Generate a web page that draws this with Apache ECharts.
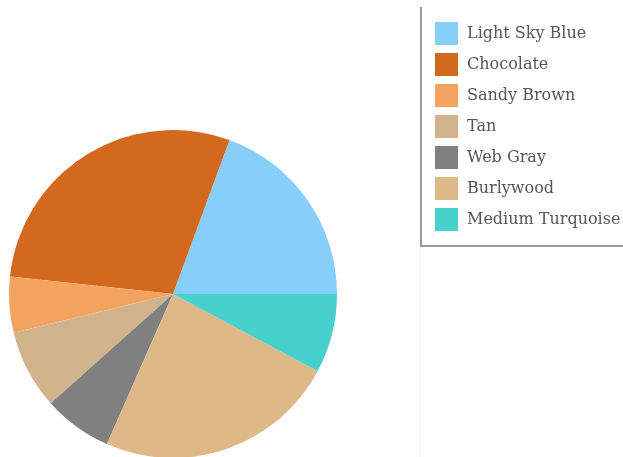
<!DOCTYPE html>
<html>
<head>
<meta charset="utf-8">
<script src="https://cdn.jsdelivr.net/npm/echarts@6/dist/echarts.min.js"></script>
<style>
html,body{margin:0;padding:0;background:#fff;}
#chart{width:623px;height:457px;}
</style>
</head>
<body>
<div id="chart"></div>
<script>
const categories = ['Light Sky Blue','Chocolate','Sandy Brown','Tan','Web Gray','Burlywood','Medium Turquoise'];
const values = [19.4, 28.9, 5.5, 7.8, 6.8, 23.8, 7.8];
const colors = ['#87CEFA','#D2691E','#F4A460','#D2B48C','#808080','#DEB887','#48D1CC'];

const chart = echarts.init(document.getElementById('chart'), null, {renderer:'canvas'});
chart.setOption({
  animation: false,
  color: colors,
  graphic: [{
    type: 'line',
    shape: {x1: 420.5, y1: 247, x2: 420.5, y2: 457},
    style: {stroke: '#f3f3f3', lineWidth: 1},
    silent: true
  }],
  legend: {
    orient: 'vertical',
    left: 422,
    top: 5,
    padding: [17, 40, 14, 13],
    itemWidth: 23,
    itemHeight: 23,
    itemGap: 8,
    itemStyle: {borderRadius: 1},
    icon: 'rect',
    backgroundColor: '#fff',
    shadowColor: '#9a9a9a',
    shadowOffsetX: -2,
    shadowOffsetY: 2,
    shadowBlur: 0,
    textStyle: {fontFamily: 'DejaVu Serif', fontSize: 16, color: '#555', padding: [0,0,0,4]},
    data: categories
  },
  series: [{
    type: 'pie',
    center: [173, 294],
    radius: 164,
    startAngle: 0,
    clockwise: false,
    label: {show: false},
    labelLine: {show: false},
    emphasis: {disabled: true},
    itemStyle: {borderWidth: 0},
    data: categories.map((c, i) => ({name: c, value: values[i]}))
  }]
});
</script>
</body>
</html>
